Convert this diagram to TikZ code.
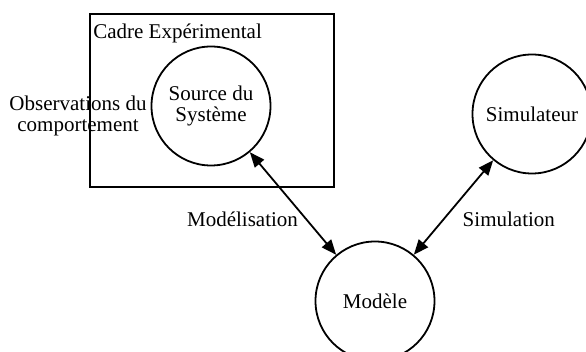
\documentclass[tikz,border=0pt]{standalone}
\usepackage{fontspec}
\setmainfont{Liberation Serif}
\usetikzlibrary{positioning,arrows.meta}

\begin{document}
\begin{tikzpicture}[x=1pt,y=1pt,on grid,auto,line width=1.8pt,
  every node/.style={font=\fontsize{21}{21}\selectfont},
  etat/.style={circle,draw,minimum size=119pt,inner sep=0pt,align=center},
  lien/.style={{Triangle[length=15pt,width=12pt]}-{Triangle[length=15pt,width=12pt]}}]
  \useasboundingbox (0,0) rectangle (586,352);
  \node[etat] (src) at (211,246) {Source du\\Système};
  \node[etat] (mod) [below right=195pt and 164pt of src] {Modèle};
  \node[etat] (sim) [above right=187pt and 157pt of mod] {Simulateur};
  \node[draw,minimum width=244pt,minimum height=173pt] (cadre) at (212,251.5) {};
  \node[anchor=north west,yshift=-7pt] (titre) at (cadre.north west) {Cadre Expérimental};
  \node[align=center] (obs) [below left=10pt and 133pt of src] {Observations du\\comportement};
  \path[lien]
    (src) edge node[swap,pos=.56,xshift=4pt,yshift=2pt] (modl) {Modélisation} (mod)
    (sim) edge node[pos=.5,xshift=5pt] (siml) {Simulation} (mod);
\end{tikzpicture}
\end{document}
